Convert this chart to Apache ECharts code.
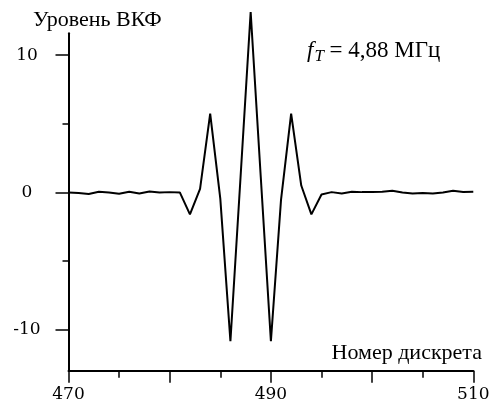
<!DOCTYPE html>
<html>
<head>
<meta charset="utf-8">
<script src="https://cdn.jsdelivr.net/npm/echarts@6/dist/echarts.min.js"></script>
<style>
  html, body { margin: 0; padding: 0; background: #fff; }
  #chart { width: 495px; height: 403px; }
</style>
</head>
<body>
<div id="chart"></div>
<script>
// sample numbers (x) and correlation level (y)
const sampleIdx = [
  470, 471, 472, 473, 474, 475, 476, 477, 478, 479,
  480, 481, 482, 483, 484, 485, 486, 487, 488, 489,
  490, 491, 492, 493, 494, 495, 496, 497, 498, 499,
  500, 501, 502, 503, 504, 505, 506, 507, 508, 509, 510
];
const ccfLevel = [
  0.0, -0.05, -0.12, 0.05, 0.0, -0.1, 0.05, -0.08, 0.06, 0.0,
  0.02, 0.0, -1.6, 0.25, 5.75, -0.45, -10.85, 1.1, 13.15, 1.1,
  -10.85, -0.55, 5.75, 0.5, -1.6, -0.15, 0.02, -0.08, 0.04, 0.02,
  0.03, 0.05, 0.12, 0.0, -0.08, -0.05, -0.08, 0.0, 0.12, 0.03, 0.05
];
const yMajorTicks = [-10, 0, 10];
const yMinorTicks = [-5, 5];
const xLabelTicks = [470, 490, 510];

const serif = 'Liberation Serif';
const numFont = 'DejaVu Serif';

const chart = echarts.init(document.getElementById('chart'));

chart.setOption({
  animation: false,
  grid: { left: 68.5, right: 21.7, top: 33.3, bottom: 32.3 },
  xAxis: {
    type: 'value',
    min: 470,
    max: 510,
    interval: 10,
    axisLine: { onZero: false, lineStyle: { color: '#000', width: 2 } },
    axisTick: { length: 12, lineStyle: { color: '#000', width: 1.5 } },
    minorTick: { show: true, splitNumber: 2, length: 7, lineStyle: { color: '#000', width: 1.5 } },
    splitLine: { show: false },
    axisLabel: {
      margin: 15,
      color: '#000',
      fontFamily: numFont,
      fontSize: 17,
      formatter: v => (xLabelTicks.includes(v) ? String(v) : '')
    }
  },
  yAxis: [
    {
      type: 'value',
      position: 'left',
      min: -13,
      max: 11.6,
      axisLine: { show: true, onZero: false, lineStyle: { color: '#000', width: 2 } },
      axisTick: { show: true, length: 13, customValues: yMajorTicks, lineStyle: { color: '#000', width: 1.5 } },
      splitLine: { show: false },
      axisLabel: {
        customValues: yMajorTicks,
        align: 'center',
        margin: 41.5,
        color: '#000',
        fontFamily: numFont,
        fontSize: 17
      }
    },
    {
      type: 'value',
      position: 'left',
      min: -13,
      max: 11.6,
      axisLine: { show: false, onZero: false },
      axisTick: { show: true, length: 6, customValues: yMinorTicks, lineStyle: { color: '#000', width: 1.5 } },
      splitLine: { show: false },
      axisLabel: { show: false }
    }
  ],
  graphic: [
    {
      type: 'text',
      x: 33, y: 20.5,
      style: { text: 'Уровень ВКФ', fill: '#000', font: '22px "' + serif + '"', align: 'left', verticalAlign: 'middle' }
    },
    {
      type: 'text',
      x: 482, y: 353.5,
      style: { text: 'Номер дискрета', fill: '#000', font: '22px "' + serif + '"', align: 'right', verticalAlign: 'middle' }
    },
    {
      type: 'text',
      x: 307, y: 39.5,
      style: {
        text: '{i|f}{s|T}{n| = 4,88 МГц}',
        align: 'left',
        verticalAlign: 'top',
        rich: {
          i: { fontFamily: serif, fontSize: 23, fontStyle: 'italic', lineHeight: 23, verticalAlign: 'top', color: '#000' },
          s: { fontFamily: serif, fontSize: 17, fontStyle: 'italic', lineHeight: 17, verticalAlign: 'top', padding: [9, 0, 0, 1], color: '#000' },
          n: { fontFamily: serif, fontSize: 23, lineHeight: 23, verticalAlign: 'top', color: '#000' }
        }
      }
    }
  ],
  series: [
    {
      type: 'line',
      data: sampleIdx.map((x, i) => [x, ccfLevel[i]]),
      showSymbol: false,
      clip: false,
      lineStyle: { color: '#000', width: 2 }
    }
  ]
});
</script>
</body>
</html>
